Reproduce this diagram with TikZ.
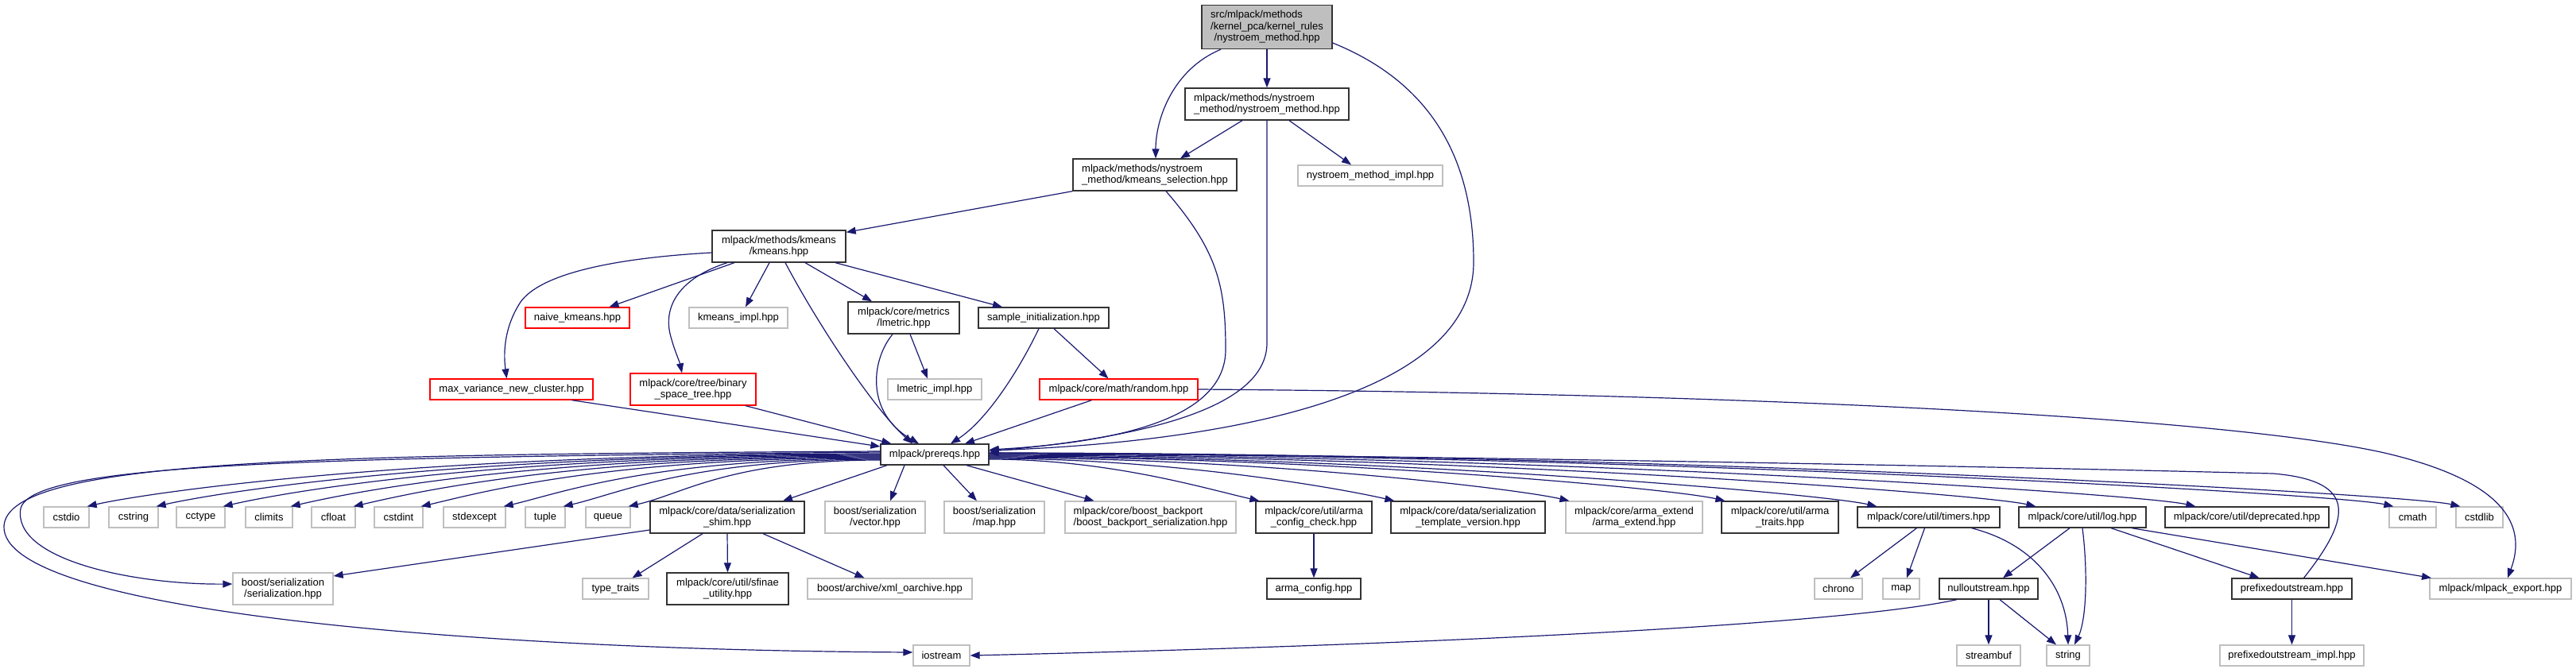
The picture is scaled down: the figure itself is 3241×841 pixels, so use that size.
\documentclass[tikz,border=0pt]{standalone}
\usepackage{fontspec}
\setmainfont{Liberation Sans}
\usetikzlibrary{arrows.meta}
\definecolor{edgec}{HTML}{191970}
\definecolor{grayb}{HTML}{BFBFBF}
\definecolor{redb}{HTML}{FF0000}
\definecolor{darkb}{HTML}{333333}
\tikzset{
 nbox/.style={draw, fill=white, line width=1.3pt, inner xsep=3pt, inner ysep=0pt,
   font=\fontsize{13}{14.5}\selectfont, align=center, minimum height=26pt},
 bk/.style={nbox, draw=darkb},
 gr/.style={nbox, draw=grayb},
 rd/.style={nbox, draw=redb},
 rootbox/.style={nbox, draw=darkb, fill=grayb},
 mw/.style={minimum width=#1pt},
 two/.style={minimum height=40pt},
 conn/.style={draw=edgec, line width=1.2pt, -{Triangle[length=12pt,width=9pt]}}
}
\begin{document}
\begin{tikzpicture}[x=1pt,y=-1pt]
\useasboundingbox (0,0) rectangle (3241,841);
% ---- nodes
\node[rootbox, mw=164, minimum height=55pt] (root) at (1594,34)
 {{\setbox0\hbox{/kernel\_pca/kernel\_rules}\hbox to\wd0{src/mlpack/methods\hfil}}\\/kernel\_pca/kernel\_rules\\/nystroem\_method.hpp};
\node[bk, mw=206, two, align=left] (nm) at (1594,131) {mlpack/methods/nystroem\\\_method/nystroem\_method.hpp};
\node[bk, mw=206, two, align=left] (ks) at (1453,220) {mlpack/methods/nystroem\\\_method/kmeans\_selection.hpp};
\node[gr, mw=182] (nmi) at (1724,221) {nystroem\_method\_impl.hpp};
\node[bk, mw=168, two] (km) at (980,310) {mlpack/methods/kmeans\\/kmeans.hpp};
\node[rd, mw=131] (naive) at (726.5,400) {naive\_kmeans.hpp};
\node[gr, mw=124] (kmi) at (929,400) {kmeans\_impl.hpp};
\node[bk, mw=140, two] (lmetric) at (1137,400) {mlpack/core/metrics\\/lmetric.hpp};
\node[bk, mw=164] (sample) at (1313,400) {sample\_initialization.hpp};
\node[rd, mw=205] (mv) at (643.5,490) {max\_variance\_new\_cluster.hpp};
\node[rd, mw=158, two] (bst) at (872,490) {mlpack/core/tree/binary\\\_space\_tree.hpp};
\node[gr, mw=118] (lmi) at (1176,490) {lmetric\_impl.hpp};
\node[rd, mw=199] (rnd) at (1407.5,490) {mlpack/core/math/random.hpp};
\node[bk, mw=136] (pre) at (1176,572) {mlpack/prereqs.hpp};
% row 654
\node[gr, mw=57] (cstdio) at (83.5,651) {cstdio};
\node[gr, mw=62] (cstring) at (168,651) {cstring};
\node[gr, mw=61] (cctype) at (252.5,651) {cctype};
\node[gr, mw=59] (climits) at (338.5,651) {climits};
\node[gr, mw=55] (cfloat) at (419.5,651) {cfloat};
\node[gr, mw=61] (cstdint) at (501.5,651) {cstdint};
\node[gr, mw=78] (stdexcept) at (597,651) {stdexcept};
\node[gr, mw=50] (tuple) at (686,651) {tuple};
\node[gr, mw=56] (queue) at (765,651) {queue};
\node[bk, mw=194, two] (shim) at (915,651) {mlpack/core/data/serialization\\\_shim.hpp};
\node[gr, mw=126, two] (vec) at (1101,651) {boost/serialization\\/vector.hpp};
\node[gr, mw=126, two] (maph) at (1251,651) {boost/serialization\\/map.hpp};
\node[gr, mw=215, two, align=left] (bb) at (1447.5,651) {mlpack/core/boost\_backport\\/boost\_backport\_serialization.hpp};
\node[bk, mw=146, two] (acc) at (1653,651) {mlpack/core/util/arma\\\_config\_check.hpp};
\node[bk, mw=194, two] (tv) at (1847,651) {mlpack/core/data/serialization\\\_template\_version.hpp};
\node[gr, mw=172, two] (ext) at (2056,651) {mlpack/core/arma\_extend\\/arma\_extend.hpp};
\node[bk, mw=147, two] (traits) at (2239.5,651) {mlpack/core/util/arma\\\_traits.hpp};
\node[bk, mw=179] (timers) at (2426.5,651) {mlpack/core/util/timers.hpp};
\node[bk, mw=160] (log) at (2620,651) {mlpack/core/util/log.hpp};
\node[bk, mw=206] (dep) at (2827,651) {mlpack/core/util/deprecated.hpp};
\node[gr, mw=59] (cmath) at (3035.5,651) {cmath};
\node[gr, mw=59] (cstdlib) at (3119.5,651) {cstdlib};
% row 744
\node[gr, mw=126, two] (sers) at (356,741) {boost/serialization\\/serialization.hpp};
\node[gr, mw=83] (tt) at (774.5,741) {type\_traits};
\node[bk, mw=153, two] (sfinae) at (915.5,741) {mlpack/core/util/sfinae\\\_utility.hpp};
\node[gr, mw=207] (xml) at (1119.5,741) {boost/archive/xml\_oarchive.hpp};
\node[bk, mw=118] (ac) at (1653,741) {arma\_config.hpp};
\node[gr, mw=60] (chrono) at (2313,741) {chrono};
\node[gr, mw=46] (map) at (2392,741) {map};
\node[bk, mw=124] (null) at (2502,741) {nulloutstream.hpp};
\node[bk, mw=151] (pref) at (2883.5,741) {prefixedoutstream.hpp};
\node[gr, mw=178] (mle) at (3146,741) {mlpack/mlpack\_export.hpp};
% row 826
\node[gr, mw=71] (ios) at (1184.5,825) {iostream};
\node[gr, mw=80] (sb) at (2502,825) {streambuf};
\node[gr, mw=54] (str) at (2602,825) {string};
\node[gr, mw=181] (pimpl) at (2883.5,825) {prefixedoutstream\_impl.hpp};
% ---- connectors
\draw[conn] (root.south) -- (nm.north);
\draw[conn] ([xshift=-58pt]root.south) .. controls +(-60,25) and +(0,-50) .. ([xshift=1pt]ks.north);
\draw[conn] ([yshift=-20pt]root.east) .. controls +(124,50) and +(0,-130) .. (1854,330)
   .. controls +(0,190) and +(220,-8) .. ([yshift=5pt]pre.east);
\draw[conn] ([xshift=-31pt]nm.south) -- ([xshift=32pt]ks.north);
\draw[conn] ([xshift=28pt]nm.south) -- ([xshift=-24pt]nmi.north);
\draw[conn] (nm.south) -- ++(0,280) .. controls +(0,75) and +(220,-20) .. ([yshift=4pt]pre.east);
\draw[conn] (ks.south west) -- ([yshift=-3pt]km.north east);
\draw[conn] ([xshift=14pt]ks.south) .. controls +(65,75) and +(0,-80) .. (1542,440)
   .. controls +(0,70) and +(210,-12) .. ([yshift=6pt]pre.east);
\draw[conn] ([yshift=-8pt]km.west) .. controls (770,325) and (680,345) .. (655,380)
   .. controls (632,415) and (634,450) .. ([xshift=-6pt]mv.north);
\draw[conn] ([xshift=-56pt]km.south) -- ([xshift=40pt]naive.north);
\draw[conn] ([xshift=-65pt]km.south) .. controls (855,350) and (835,385) .. (843,420)
   .. controls (848,440) and (855,455) .. ([xshift=-14pt]bst.north);
\draw[conn] ([xshift=-12pt]km.south) -- ([xshift=9pt]kmi.north);
\draw[conn] ([xshift=8pt]km.south) .. controls (1030,410) and (1100,515) .. ([xshift=-28pt]pre.north);
\draw[conn] ([xshift=33pt]km.south) -- ([xshift=-40pt]lmetric.north);
\draw[conn] ([xshift=71pt]km.south) -- ([xshift=-52pt]sample.north);
\draw[conn] ([xshift=8pt]lmetric.south) -- ([xshift=-9pt]lmi.north);
\draw[conn] ([xshift=-14pt]lmetric.south) .. controls (1095,455) and (1090,520) .. ([xshift=-20pt]pre.north);
\draw[conn] ([xshift=-6pt]sample.south) .. controls (1280,470) and (1240,530) .. ([xshift=20pt]pre.north);
\draw[conn] ([xshift=13pt]sample.south) -- ([xshift=-13pt]rnd.north);
\draw[conn] ([xshift=-34pt]rnd.south) -- ([xshift=38pt]pre.north);
\draw[conn] (rnd.east) .. controls (2200,495) and (2800,525) .. (3000,570)
   .. controls (3150,605) and (3180,660) .. ([xshift=9pt]mle.north);
\draw[conn] ([xshift=76pt]mv.south) -- ([yshift=10pt]pre.west);
\draw[conn] ([xshift=66pt]bst.south) -- ([xshift=14pt]pre.north west);
% prereqs to the left row
\foreach \t/\dy/\cx in {cstdio/1/-600, cstring/0/-550, cctype/-1/-500, climits/-2/-450,
   cfloat/-3/-400, cstdint/-4/-350, stdexcept/-5/-290, tuple/-6/-240, queue/-7/-190}
  \draw[conn] ([yshift=\dy pt]pre.west) .. controls +(\cx,0) and +(70,-16) .. ([xshift=-3pt]\t.north east);
\draw[conn] ([yshift=3pt]pre.west) .. controls (400,576) and (40,582) .. (26,640)
   .. controls (15,705) and (170,736) .. ([yshift=6pt]sers.west);
\draw[conn] ([yshift=4pt]pre.west) .. controls (400,572) and (10,578) .. (5,662)
   .. controls (0,770) and (600,818) .. ([yshift=4pt]ios.west);
% prereqs straight down
\draw[conn] ([xshift=-60pt]pre.south) -- ([xshift=70pt]shim.north);
\draw[conn] ([xshift=-38pt]pre.south) -- ([xshift=19pt]vec.north);
\draw[conn] ([xshift=11pt]pre.south) -- ([xshift=-22pt]maph.north);
\draw[conn] ([xshift=40pt]pre.south) -- ([xshift=-71pt]bb.north);
% prereqs to the right row
\foreach \t/\dy/\cx/\xs in {acc/-6/150/5, tv/-5/230/5, ext/-4/330/5, traits/-3/420/5,
   timers/-2/500/25, log/-1/590/22, dep/0/680/39, cmath/1/790/6, cstdlib/2/830/6}
  \draw[conn] ([yshift=\dy pt]pre.east) .. controls +(\cx,0) and +(-70,-16) .. ([xshift=\xs pt]\t.north west);
% lower edges
\draw[conn] ([yshift=-16pt]shim.west) -- ([yshift=16pt]sers.east);
\draw[conn] ([xshift=-31pt]shim.south) -- ([xshift=21pt]tt.north);
\draw[conn] (shim.south) -- (sfinae.north);
\draw[conn] ([xshift=45pt]shim.south) -- ([xshift=-32pt]xml.north);
\draw[conn] (acc.south) -- (ac.north);
\draw[conn] ([xshift=-15pt]timers.south) -- ([xshift=15pt]chrono.north);
\draw[conn] ([xshift=-5pt]timers.south) -- ([xshift=7pt]map.north);
\draw[conn] ([xshift=54pt]timers.south) .. controls (2560,685) and (2600,740) .. (str.north);
\draw[conn] ([xshift=-16pt]log.south) -- ([xshift=18pt]null.north);
\draw[conn] (log.south) .. controls (2627,720) and (2625,780) .. ([xshift=8pt]str.north);
\draw[conn] ([xshift=36pt]log.south) -- ([xshift=-41pt]pref.north);
\draw[conn] ([xshift=62pt]log.south) -- ([xshift=-87pt]mle.north);
\draw[conn] ([xshift=-40pt]null.south) .. controls (2300,790) and (1700,814) .. (ios.east);
\draw[conn] (null.south) -- (sb.north);
\draw[conn] ([xshift=14pt]null.south) -- ([xshift=-15pt]str.north);
\draw[conn] (pref.south) -- (pimpl.north);
\draw[conn] ([xshift=15pt]pref.north) .. controls (2960,650) and (2965,605) .. (2860,596)
   .. controls (2300,582) and (1600,572) .. ([yshift=2pt]pre.east);
\end{tikzpicture}
\end{document}
